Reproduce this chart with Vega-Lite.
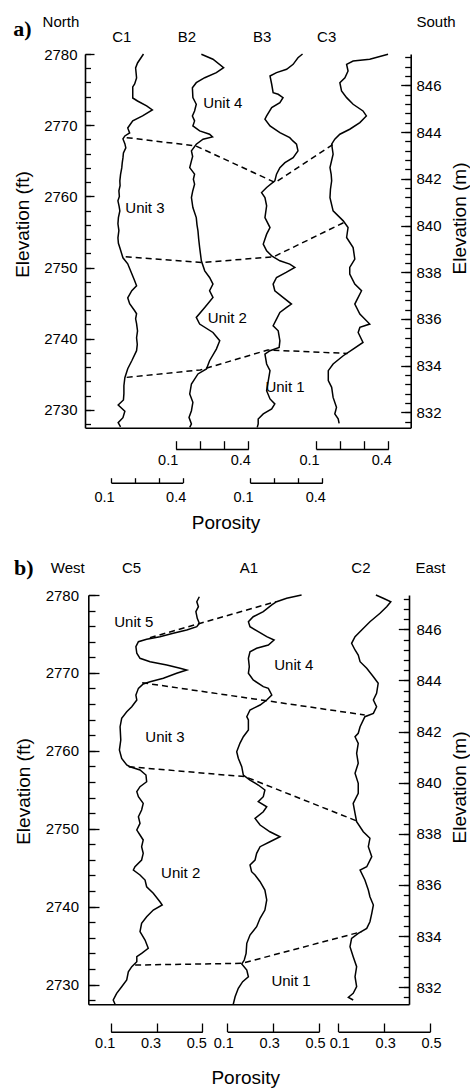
{
  "$schema": "https://vega.github.io/schema/vega-lite/v6.json",
  "width": 470,
  "height": 1089,
  "autosize": "none",
  "padding": 0,
  "background": "white",
  "config": {
    "view": {"stroke": null},
    "axis": {
      "grid": false,
      "domainColor": "black",
      "tickColor": "black",
      "labelColor": "black",
      "titleColor": "black",
      "labelFont": "Liberation Sans",
      "titleFont": "Liberation Sans",
      "labelFontSize": 15,
      "titleFontSize": 19,
      "titleFontWeight": "normal",
      "domainWidth": 1.6,
      "tickWidth": 1.3,
      "labelOverlap": false,
      "labelFlush": false
    }
  },
  "datasets": {
    "logs": [
      {"well":"C1","elev":2780.00,"porosity":0.236},{"well":"C1","elev":2778.74,"porosity":0.211},{"well":"C1","elev":2778.04,"porosity":0.203},{"well":"C1","elev":2776.63,"porosity":0.207},{"well":"C1","elev":2775.79,"porosity":0.199},{"well":"C1","elev":2775.37,"porosity":0.191},{"well":"C1","elev":2773.82,"porosity":0.191},{"well":"C1","elev":2773.40,"porosity":0.211},{"well":"C1","elev":2772.70,"porosity":0.249},{"well":"C1","elev":2772.14,"porosity":0.273},{"well":"C1","elev":2771.30,"porosity":0.232},{"well":"C1","elev":2770.60,"porosity":0.191},{"well":"C1","elev":2769.61,"porosity":0.170},{"well":"C1","elev":2768.91,"porosity":0.178},{"well":"C1","elev":2768.49,"porosity":0.158},{"well":"C1","elev":2768.07,"porosity":0.150},{"well":"C1","elev":2767.40,"porosity":0.158},{"well":"C1","elev":2766.81,"porosity":0.162},{"well":"C1","elev":2766.10,"porosity":0.152},{"well":"C1","elev":2765.40,"porosity":0.150},{"well":"C1","elev":2764.70,"porosity":0.147},{"well":"C1","elev":2764.00,"porosity":0.145},{"well":"C1","elev":2763.10,"porosity":0.140},{"well":"C1","elev":2762.18,"porosity":0.137},{"well":"C1","elev":2761.50,"porosity":0.138},{"well":"C1","elev":2760.77,"porosity":0.133},{"well":"C1","elev":2760.00,"porosity":0.135},{"well":"C1","elev":2759.37,"porosity":0.129},{"well":"C1","elev":2758.60,"porosity":0.134},{"well":"C1","elev":2757.96,"porosity":0.137},{"well":"C1","elev":2757.00,"porosity":0.131},{"well":"C1","elev":2756.14,"porosity":0.129},{"well":"C1","elev":2755.20,"porosity":0.133},{"well":"C1","elev":2754.18,"porosity":0.129},{"well":"C1","elev":2753.40,"porosity":0.131},{"well":"C1","elev":2752.77,"porosity":0.137},{"well":"C1","elev":2751.37,"porosity":0.150},{"well":"C1","elev":2750.53,"porosity":0.170},{"well":"C1","elev":2749.12,"porosity":0.187},{"well":"C1","elev":2748.14,"porosity":0.199},{"well":"C1","elev":2747.44,"porosity":0.207},{"well":"C1","elev":2746.74,"porosity":0.187},{"well":"C1","elev":2745.75,"porosity":0.170},{"well":"C1","elev":2744.91,"porosity":0.178},{"well":"C1","elev":2743.93,"porosity":0.199},{"well":"C1","elev":2743.51,"porosity":0.207},{"well":"C1","elev":2742.80,"porosity":0.203},{"well":"C1","elev":2742.11,"porosity":0.207},{"well":"C1","elev":2741.10,"porosity":0.211},{"well":"C1","elev":2740.14,"porosity":0.207},{"well":"C1","elev":2739.20,"porosity":0.210},{"well":"C1","elev":2738.32,"porosity":0.207},{"well":"C1","elev":2736.91,"porosity":0.187},{"well":"C1","elev":2735.79,"porosity":0.170},{"well":"C1","elev":2734.53,"porosity":0.158},{"well":"C1","elev":2733.40,"porosity":0.154},{"well":"C1","elev":2732.28,"porosity":0.154},{"well":"C1","elev":2731.40,"porosity":0.152},{"well":"C1","elev":2730.70,"porosity":0.130},{"well":"C1","elev":2729.80,"porosity":0.158},{"well":"C1","elev":2728.90,"porosity":0.150},{"well":"C1","elev":2728.20,"porosity":0.130},{"well":"C1","elev":2727.60,"porosity":0.140},
      {"well":"B2","elev":2779.96,"porosity":0.206},{"well":"B2","elev":2779.26,"porosity":0.254},{"well":"B2","elev":2778.08,"porosity":0.298},{"well":"B2","elev":2777.38,"porosity":0.268},{"well":"B2","elev":2776.67,"porosity":0.220},{"well":"B2","elev":2775.97,"porosity":0.185},{"well":"B2","elev":2775.27,"porosity":0.169},{"well":"B2","elev":2773.87,"porosity":0.171},{"well":"B2","elev":2772.94,"porosity":0.185},{"well":"B2","elev":2772.00,"porosity":0.178},{"well":"B2","elev":2771.30,"porosity":0.169},{"well":"B2","elev":2770.60,"porosity":0.178},{"well":"B2","elev":2769.89,"porosity":0.171},{"well":"B2","elev":2769.19,"porosity":0.199},{"well":"B2","elev":2768.73,"porosity":0.240},{"well":"B2","elev":2768.35,"porosity":0.252},{"well":"B2","elev":2768.03,"porosity":0.213},{"well":"B2","elev":2767.33,"porosity":0.185},{"well":"B2","elev":2766.39,"porosity":0.165},{"well":"B2","elev":2765.60,"porosity":0.170},{"well":"B2","elev":2764.98,"porosity":0.165},{"well":"B2","elev":2764.04,"porosity":0.158},{"well":"B2","elev":2763.12,"porosity":0.178},{"well":"B2","elev":2762.40,"porosity":0.173},{"well":"B2","elev":2761.71,"porosity":0.178},{"well":"B2","elev":2760.70,"porosity":0.170},{"well":"B2","elev":2759.83,"porosity":0.165},{"well":"B2","elev":2758.43,"porosity":0.171},{"well":"B2","elev":2757.02,"porosity":0.185},{"well":"B2","elev":2756.00,"porosity":0.188},{"well":"B2","elev":2755.16,"porosity":0.192},{"well":"B2","elev":2754.00,"porosity":0.195},{"well":"B2","elev":2752.81,"porosity":0.199},{"well":"B2","elev":2750.95,"porosity":0.206},{"well":"B2","elev":2749.54,"porosity":0.220},{"well":"B2","elev":2748.60,"porosity":0.240},{"well":"B2","elev":2747.68,"porosity":0.254},{"well":"B2","elev":2746.74,"porosity":0.240},{"well":"B2","elev":2745.80,"porosity":0.254},{"well":"B2","elev":2744.39,"porosity":0.220},{"well":"B2","elev":2742.99,"porosity":0.185},{"well":"B2","elev":2742.06,"porosity":0.199},{"well":"B2","elev":2740.88,"porosity":0.254},{"well":"B2","elev":2739.72,"porosity":0.282},{"well":"B2","elev":2738.55,"porosity":0.268},{"well":"B2","elev":2736.91,"porosity":0.240},{"well":"B2","elev":2735.75,"porosity":0.227},{"well":"B2","elev":2735.05,"porosity":0.192},{"well":"B2","elev":2733.64,"porosity":0.165},{"well":"B2","elev":2732.24,"porosity":0.158},{"well":"B2","elev":2731.06,"porosity":0.171},{"well":"B2","elev":2729.89,"porosity":0.165},{"well":"B2","elev":2728.95,"porosity":0.155},{"well":"B2","elev":2728.03,"porosity":0.165},{"well":"B2","elev":2727.55,"porosity":0.158},
      {"well":"B3","elev":2780.00,"porosity":0.318},{"well":"B3","elev":2779.48,"porosity":0.299},{"well":"B3","elev":2778.55,"porosity":0.279},{"well":"B3","elev":2777.85,"porosity":0.252},{"well":"B3","elev":2777.38,"porosity":0.210},{"well":"B3","elev":2776.91,"porosity":0.183},{"well":"B3","elev":2775.75,"porosity":0.190},{"well":"B3","elev":2774.57,"porosity":0.196},{"well":"B3","elev":2774.34,"porosity":0.217},{"well":"B3","elev":2773.87,"porosity":0.237},{"well":"B3","elev":2773.16,"porosity":0.224},{"well":"B3","elev":2772.46,"porosity":0.190},{"well":"B3","elev":2771.30,"porosity":0.169},{"well":"B3","elev":2770.84,"porosity":0.162},{"well":"B3","elev":2769.89,"porosity":0.183},{"well":"B3","elev":2768.95,"porosity":0.224},{"well":"B3","elev":2768.25,"porosity":0.265},{"well":"B3","elev":2767.79,"porosity":0.278},{"well":"B3","elev":2767.33,"porosity":0.293},{"well":"B3","elev":2766.39,"porosity":0.299},{"well":"B3","elev":2765.45,"porosity":0.279},{"well":"B3","elev":2764.74,"porosity":0.245},{"well":"B3","elev":2764.04,"porosity":0.224},{"well":"B3","elev":2763.12,"porosity":0.210},{"well":"B3","elev":2762.18,"porosity":0.203},{"well":"B3","elev":2761.24,"porosity":0.169},{"well":"B3","elev":2760.53,"porosity":0.148},{"well":"B3","elev":2759.83,"porosity":0.162},{"well":"B3","elev":2758.67,"porosity":0.169},{"well":"B3","elev":2757.02,"porosity":0.162},{"well":"B3","elev":2755.62,"porosity":0.183},{"well":"B3","elev":2754.69,"porosity":0.169},{"well":"B3","elev":2753.29,"porosity":0.155},{"well":"B3","elev":2752.35,"porosity":0.169},{"well":"B3","elev":2751.65,"porosity":0.190},{"well":"B3","elev":2750.95,"porosity":0.224},{"well":"B3","elev":2750.48,"porosity":0.265},{"well":"B3","elev":2750.01,"porosity":0.286},{"well":"B3","elev":2749.31,"porosity":0.250},{"well":"B3","elev":2748.60,"porosity":0.210},{"well":"B3","elev":2747.68,"porosity":0.196},{"well":"B3","elev":2746.74,"porosity":0.203},{"well":"B3","elev":2745.80,"porosity":0.237},{"well":"B3","elev":2744.87,"porosity":0.272},{"well":"B3","elev":2744.39,"porosity":0.252},{"well":"B3","elev":2743.69,"porosity":0.224},{"well":"B3","elev":2742.76,"porosity":0.210},{"well":"B3","elev":2741.82,"porosity":0.196},{"well":"B3","elev":2741.12,"porosity":0.217},{"well":"B3","elev":2739.72,"porosity":0.224},{"well":"B3","elev":2738.78,"porosity":0.221},{"well":"B3","elev":2738.32,"porosity":0.183},{"well":"B3","elev":2737.85,"porosity":0.162},{"well":"B3","elev":2736.45,"porosity":0.169},{"well":"B3","elev":2735.51,"porosity":0.183},{"well":"B3","elev":2734.11,"porosity":0.176},{"well":"B3","elev":2732.70,"porosity":0.169},{"well":"B3","elev":2731.54,"porosity":0.183},{"well":"B3","elev":2730.84,"porosity":0.203},{"well":"B3","elev":2730.13,"porosity":0.190},{"well":"B3","elev":2729.43,"porosity":0.155},{"well":"B3","elev":2728.73,"porosity":0.134},{"well":"B3","elev":2728.03,"porosity":0.134},{"well":"B3","elev":2727.55,"porosity":0.130},
      {"well":"C3","elev":2779.96,"porosity":0.399},{"well":"C3","elev":2779.26,"porosity":0.323},{"well":"C3","elev":2779.02,"porosity":0.254},{"well":"C3","elev":2778.55,"porosity":0.227},{"well":"C3","elev":2777.61,"porosity":0.233},{"well":"C3","elev":2776.67,"porosity":0.220},{"well":"C3","elev":2775.97,"porosity":0.199},{"well":"C3","elev":2774.81,"porosity":0.206},{"well":"C3","elev":2773.87,"porosity":0.227},{"well":"C3","elev":2772.94,"porosity":0.254},{"well":"C3","elev":2772.00,"porosity":0.295},{"well":"C3","elev":2771.30,"porosity":0.309},{"well":"C3","elev":2770.36,"porosity":0.282},{"well":"C3","elev":2769.43,"porosity":0.240},{"well":"C3","elev":2768.73,"porosity":0.199},{"well":"C3","elev":2768.03,"porosity":0.178},{"well":"C3","elev":2767.33,"porosity":0.165},{"well":"C3","elev":2765.92,"porosity":0.171},{"well":"C3","elev":2764.04,"porosity":0.158},{"well":"C3","elev":2763.10,"porosity":0.163},{"well":"C3","elev":2762.18,"porosity":0.165},{"well":"C3","elev":2761.00,"porosity":0.160},{"well":"C3","elev":2759.83,"porosity":0.158},{"well":"C3","elev":2757.96,"porosity":0.171},{"well":"C3","elev":2756.56,"porosity":0.213},{"well":"C3","elev":2755.62,"porosity":0.233},{"well":"C3","elev":2754.22,"porosity":0.227},{"well":"C3","elev":2752.81,"porosity":0.254},{"well":"C3","elev":2751.19,"porosity":0.261},{"well":"C3","elev":2750.01,"porosity":0.240},{"well":"C3","elev":2749.08,"porosity":0.240},{"well":"C3","elev":2747.68,"porosity":0.261},{"well":"C3","elev":2746.74,"porosity":0.289},{"well":"C3","elev":2745.80,"porosity":0.275},{"well":"C3","elev":2744.87,"porosity":0.261},{"well":"C3","elev":2743.47,"porosity":0.282},{"well":"C3","elev":2742.06,"porosity":0.323},{"well":"C3","elev":2741.59,"porosity":0.282},{"well":"C3","elev":2740.88,"porosity":0.275},{"well":"C3","elev":2739.48,"porosity":0.295},{"well":"C3","elev":2738.55,"porosity":0.254},{"well":"C3","elev":2737.61,"porosity":0.213},{"well":"C3","elev":2736.45,"porosity":0.171},{"well":"C3","elev":2735.51,"porosity":0.151},{"well":"C3","elev":2734.11,"porosity":0.151},{"well":"C3","elev":2733.17,"porosity":0.165},{"well":"C3","elev":2731.76,"porosity":0.171},{"well":"C3","elev":2730.36,"porosity":0.185},{"well":"C3","elev":2729.43,"porosity":0.178},{"well":"C3","elev":2728.75,"porosity":0.192},{"well":"C3","elev":2728.11,"porosity":0.196},
      {"well":"C5","elev":2779.78,"porosity":0.487},{"well":"C5","elev":2779.14,"porosity":0.476},{"well":"C5","elev":2778.50,"porosity":0.483},{"well":"C5","elev":2777.86,"porosity":0.472},{"well":"C5","elev":2777.01,"porosity":0.478},{"well":"C5","elev":2776.37,"porosity":0.487},{"well":"C5","elev":2775.93,"porosity":0.476},{"well":"C5","elev":2775.51,"porosity":0.432},{"well":"C5","elev":2775.08,"porosity":0.373},{"well":"C5","elev":2774.65,"porosity":0.315},{"well":"C5","elev":2774.31,"porosity":0.257},{"well":"C5","elev":2774.01,"porosity":0.221},{"well":"C5","elev":2773.36,"porosity":0.210},{"well":"C5","elev":2772.52,"porosity":0.214},{"well":"C5","elev":2771.87,"porosity":0.228},{"well":"C5","elev":2771.44,"porosity":0.272},{"well":"C5","elev":2771.01,"porosity":0.345},{"well":"C5","elev":2770.59,"porosity":0.403},{"well":"C5","elev":2770.37,"porosity":0.432},{"well":"C5","elev":2769.95,"porosity":0.388},{"well":"C5","elev":2769.31,"porosity":0.330},{"well":"C5","elev":2768.87,"porosity":0.272},{"well":"C5","elev":2768.58,"porosity":0.242},{"well":"C5","elev":2768.02,"porosity":0.221},{"well":"C5","elev":2767.16,"porosity":0.210},{"well":"C5","elev":2766.52,"porosity":0.214},{"well":"C5","elev":2765.66,"porosity":0.192},{"well":"C5","elev":2765.02,"porosity":0.170},{"well":"C5","elev":2764.17,"porosity":0.148},{"well":"C5","elev":2763.09,"porosity":0.141},{"well":"C5","elev":2761.39,"porosity":0.144},{"well":"C5","elev":2760.10,"porosity":0.138},{"well":"C5","elev":2759.03,"porosity":0.148},{"well":"C5","elev":2758.18,"porosity":0.170},{"well":"C5","elev":2757.96,"porosity":0.184},{"well":"C5","elev":2757.54,"porosity":0.228},{"well":"C5","elev":2756.89,"porosity":0.254},{"well":"C5","elev":2756.03,"porosity":0.257},{"well":"C5","elev":2755.39,"porosity":0.228},{"well":"C5","elev":2754.75,"porosity":0.214},{"well":"C5","elev":2754.11,"porosity":0.221},{"well":"C5","elev":2753.26,"porosity":0.242},{"well":"C5","elev":2752.40,"porosity":0.235},{"well":"C5","elev":2751.54,"porosity":0.221},{"well":"C5","elev":2750.69,"porosity":0.228},{"well":"C5","elev":2749.83,"porosity":0.214},{"well":"C5","elev":2749.19,"porosity":0.228},{"well":"C5","elev":2748.55,"porosity":0.242},{"well":"C5","elev":2747.69,"porosity":0.235},{"well":"C5","elev":2746.84,"porosity":0.242},{"well":"C5","elev":2745.98,"porosity":0.235},{"well":"C5","elev":2745.12,"porosity":0.206},{"well":"C5","elev":2744.70,"porosity":0.199},{"well":"C5","elev":2744.06,"porosity":0.228},{"well":"C5","elev":2743.41,"porosity":0.250},{"well":"C5","elev":2742.55,"porosity":0.257},{"well":"C5","elev":2741.71,"porosity":0.286},{"well":"C5","elev":2740.63,"porosity":0.315},{"well":"C5","elev":2740.21,"porosity":0.325},{"well":"C5","elev":2739.56,"porosity":0.286},{"well":"C5","elev":2738.70,"porosity":0.257},{"well":"C5","elev":2737.86,"porosity":0.235},{"well":"C5","elev":2736.78,"porosity":0.228},{"well":"C5","elev":2735.71,"porosity":0.250},{"well":"C5","elev":2734.65,"porosity":0.264},{"well":"C5","elev":2734.00,"porosity":0.235},{"well":"C5","elev":2733.57,"porosity":0.214},{"well":"C5","elev":2732.93,"porosity":0.214},{"well":"C5","elev":2732.29,"porosity":0.192},{"well":"C5","elev":2731.64,"porosity":0.177},{"well":"C5","elev":2730.58,"porosity":0.170},{"well":"C5","elev":2729.72,"porosity":0.148},{"well":"C5","elev":2728.87,"porosity":0.126},{"well":"C5","elev":2728.01,"porosity":0.111},{"well":"C5","elev":2727.46,"porosity":0.119},
      {"well":"A1","elev":2780.00,"porosity":0.424},{"well":"A1","elev":2779.58,"porosity":0.359},{"well":"A1","elev":2779.14,"porosity":0.315},{"well":"A1","elev":2778.72,"porosity":0.294},{"well":"A1","elev":2777.86,"porosity":0.257},{"well":"A1","elev":2777.21,"porosity":0.213},{"well":"A1","elev":2776.57,"porosity":0.192},{"well":"A1","elev":2775.93,"porosity":0.199},{"well":"A1","elev":2775.29,"porosity":0.235},{"well":"A1","elev":2774.65,"porosity":0.272},{"well":"A1","elev":2774.22,"porosity":0.304},{"well":"A1","elev":2773.58,"porosity":0.279},{"well":"A1","elev":2773.16,"porosity":0.228},{"well":"A1","elev":2772.72,"porosity":0.199},{"well":"A1","elev":2771.87,"porosity":0.192},{"well":"A1","elev":2770.80,"porosity":0.196},{"well":"A1","elev":2769.95,"porosity":0.192},{"well":"A1","elev":2769.09,"porosity":0.213},{"well":"A1","elev":2768.23,"porosity":0.257},{"well":"A1","elev":2768.02,"porosity":0.279},{"well":"A1","elev":2767.16,"porosity":0.294},{"well":"A1","elev":2766.52,"porosity":0.272},{"well":"A1","elev":2765.88,"porosity":0.243},{"well":"A1","elev":2765.24,"porosity":0.199},{"well":"A1","elev":2764.38,"porosity":0.185},{"well":"A1","elev":2763.95,"porosity":0.192},{"well":"A1","elev":2762.67,"porosity":0.192},{"well":"A1","elev":2761.81,"porosity":0.170},{"well":"A1","elev":2760.96,"porosity":0.155},{"well":"A1","elev":2759.88,"porosity":0.141},{"well":"A1","elev":2759.04,"porosity":0.148},{"well":"A1","elev":2757.96,"porosity":0.163},{"well":"A1","elev":2756.89,"porosity":0.170},{"well":"A1","elev":2756.25,"porosity":0.199},{"well":"A1","elev":2755.61,"porosity":0.235},{"well":"A1","elev":2754.97,"porosity":0.264},{"well":"A1","elev":2754.11,"porosity":0.257},{"well":"A1","elev":2753.47,"porosity":0.235},{"well":"A1","elev":2752.82,"porosity":0.272},{"well":"A1","elev":2752.18,"porosity":0.257},{"well":"A1","elev":2751.33,"porosity":0.221},{"well":"A1","elev":2750.47,"porosity":0.243},{"well":"A1","elev":2749.61,"porosity":0.286},{"well":"A1","elev":2748.97,"porosity":0.330},{"well":"A1","elev":2748.33,"porosity":0.286},{"well":"A1","elev":2747.69,"porosity":0.243},{"well":"A1","elev":2746.84,"porosity":0.228},{"well":"A1","elev":2745.98,"porosity":0.221},{"well":"A1","elev":2745.34,"porosity":0.199},{"well":"A1","elev":2744.48,"porosity":0.206},{"well":"A1","elev":2744.06,"porosity":0.221},{"well":"A1","elev":2743.20,"porosity":0.243},{"well":"A1","elev":2742.13,"porosity":0.264},{"well":"A1","elev":2740.85,"porosity":0.272},{"well":"A1","elev":2739.56,"porosity":0.264},{"well":"A1","elev":2738.50,"porosity":0.243},{"well":"A1","elev":2737.42,"porosity":0.228},{"well":"A1","elev":2736.35,"porosity":0.199},{"well":"A1","elev":2735.29,"porosity":0.185},{"well":"A1","elev":2734.00,"porosity":0.182},{"well":"A1","elev":2733.14,"porosity":0.174},{"well":"A1","elev":2732.63,"porosity":0.163},{"well":"A1","elev":2731.86,"porosity":0.185},{"well":"A1","elev":2731.00,"porosity":0.192},{"well":"A1","elev":2730.36,"porosity":0.167},{"well":"A1","elev":2729.51,"porosity":0.148},{"well":"A1","elev":2728.43,"porosity":0.134},{"well":"A1","elev":2727.46,"porosity":0.126},
      {"well":"C2","elev":2780.00,"porosity":0.264},{"well":"C2","elev":2779.58,"porosity":0.296},{"well":"C2","elev":2779.14,"porosity":0.329},{"well":"C2","elev":2778.50,"porosity":0.311},{"well":"C2","elev":2777.65,"porosity":0.282},{"well":"C2","elev":2776.57,"porosity":0.238},{"well":"C2","elev":2775.51,"porosity":0.202},{"well":"C2","elev":2774.65,"porosity":0.173},{"well":"C2","elev":2773.80,"porosity":0.158},{"well":"C2","elev":2772.94,"porosity":0.173},{"well":"C2","elev":2772.30,"porosity":0.187},{"well":"C2","elev":2771.44,"porosity":0.195},{"well":"C2","elev":2770.59,"porosity":0.224},{"well":"C2","elev":2769.51,"porosity":0.253},{"well":"C2","elev":2768.67,"porosity":0.274},{"well":"C2","elev":2767.38,"porosity":0.267},{"well":"C2","elev":2766.52,"porosity":0.253},{"well":"C2","elev":2765.66,"porosity":0.267},{"well":"C2","elev":2764.81,"porosity":0.253},{"well":"C2","elev":2764.38,"porosity":0.216},{"well":"C2","elev":2763.09,"porosity":0.195},{"well":"C2","elev":2762.25,"porosity":0.187},{"well":"C2","elev":2761.81,"porosity":0.173},{"well":"C2","elev":2760.96,"porosity":0.187},{"well":"C2","elev":2759.68,"porosity":0.180},{"well":"C2","elev":2758.40,"porosity":0.187},{"well":"C2","elev":2757.11,"porosity":0.173},{"well":"C2","elev":2755.83,"porosity":0.187},{"well":"C2","elev":2754.54,"porosity":0.187},{"well":"C2","elev":2753.26,"porosity":0.165},{"well":"C2","elev":2751.98,"porosity":0.173},{"well":"C2","elev":2750.90,"porosity":0.180},{"well":"C2","elev":2749.61,"porosity":0.209},{"well":"C2","elev":2748.77,"porosity":0.238},{"well":"C2","elev":2747.69,"porosity":0.231},{"well":"C2","elev":2746.41,"porosity":0.246},{"well":"C2","elev":2745.12,"porosity":0.224},{"well":"C2","elev":2744.70,"porosity":0.195},{"well":"C2","elev":2743.41,"porosity":0.216},{"well":"C2","elev":2742.13,"porosity":0.231},{"well":"C2","elev":2741.27,"porosity":0.238},{"well":"C2","elev":2740.21,"porosity":0.253},{"well":"C2","elev":2739.14,"porosity":0.246},{"well":"C2","elev":2738.06,"porosity":0.238},{"well":"C2","elev":2737.21,"porosity":0.224},{"well":"C2","elev":2736.57,"porosity":0.187},{"well":"C2","elev":2735.93,"porosity":0.158},{"well":"C2","elev":2734.85,"porosity":0.151},{"well":"C2","elev":2733.57,"porosity":0.165},{"well":"C2","elev":2732.29,"porosity":0.180},{"well":"C2","elev":2731.00,"porosity":0.173},{"well":"C2","elev":2729.72,"porosity":0.180},{"well":"C2","elev":2728.87,"porosity":0.165},{"well":"C2","elev":2728.36,"porosity":0.144},{"well":"C2","elev":2728.01,"porosity":0.165}
    ],
    "boundaries": [
      {"panel":"a","boundary":"top of Unit 3","track":0.128,"elev":2768.25},{"panel":"a","boundary":"top of Unit 3","track":0.340,"elev":2767.09},{"panel":"a","boundary":"top of Unit 3","track":0.584,"elev":2761.94},{"panel":"a","boundary":"top of Unit 3","track":0.762,"elev":2767.33},
      {"panel":"a","boundary":"top of Unit 2","track":0.125,"elev":2751.51},{"panel":"a","boundary":"top of Unit 2","track":0.362,"elev":2750.71},{"panel":"a","boundary":"top of Unit 2","track":0.579,"elev":2751.51},{"panel":"a","boundary":"top of Unit 2","track":0.795,"elev":2756.32},
      {"panel":"a","boundary":"top of Unit 1","track":0.128,"elev":2734.57},{"panel":"a","boundary":"top of Unit 1","track":0.354,"elev":2735.61},{"panel":"a","boundary":"top of Unit 1","track":0.561,"elev":2738.41},{"panel":"a","boundary":"top of Unit 1","track":0.806,"elev":2737.94},
      {"panel":"b","boundary":"top of Unit 4","track":0.192,"elev":2774.52},{"panel":"b","boundary":"top of Unit 4","track":0.585,"elev":2779.14},
      {"panel":"b","boundary":"top of Unit 3","track":0.168,"elev":2768.74},{"panel":"b","boundary":"top of Unit 3","track":0.862,"elev":2764.60},
      {"panel":"b","boundary":"top of Unit 2","track":0.126,"elev":2757.96},{"panel":"b","boundary":"top of Unit 2","track":0.489,"elev":2756.68},{"panel":"b","boundary":"top of Unit 2","track":0.835,"elev":2751.03},
      {"panel":"b","boundary":"top of Unit 1","track":0.146,"elev":2732.50},{"panel":"b","boundary":"top of Unit 1","track":0.479,"elev":2732.72},{"panel":"b","boundary":"top of Unit 1","track":0.852,"elev":2736.78}
    ],
    "labels": [
      {"panel":"a","kind":"letter","text":"a)","track":-0.192,"elev":2783.58},
      {"panel":"a","kind":"header","text":"North","track":-0.074,"elev":2784.54},
      {"panel":"a","kind":"header","text":"South","track":1.078,"elev":2784.54},
      {"panel":"a","kind":"well","text":"C1","track":0.113,"elev":2782.43},
      {"panel":"a","kind":"well","text":"B2","track":0.313,"elev":2782.43},
      {"panel":"a","kind":"well","text":"B3","track":0.544,"elev":2782.43},
      {"panel":"a","kind":"well","text":"C3","track":0.742,"elev":2782.43},
      {"panel":"a","kind":"unit","text":"Unit 4","track":0.423,"elev":2773.12},
      {"panel":"a","kind":"unit","text":"Unit 3","track":0.184,"elev":2758.33},
      {"panel":"a","kind":"unit","text":"Unit 2","track":0.437,"elev":2742.96},
      {"panel":"a","kind":"unit","text":"Unit 1","track":0.614,"elev":2733.27},
      {"panel":"a","kind":"axis","text":"Porosity","track":0.433,"elev":2714.13},
      {"panel":"b","kind":"letter","text":"b)","track":-0.201,"elev":2783.47},
      {"panel":"b","kind":"header","text":"West","track":-0.064,"elev":2783.43},
      {"panel":"b","kind":"header","text":"East","track":1.067,"elev":2783.43},
      {"panel":"b","kind":"well","text":"C5","track":0.135,"elev":2783.43},
      {"panel":"b","kind":"well","text":"A1","track":0.501,"elev":2783.43},
      {"panel":"b","kind":"well","text":"C2","track":0.850,"elev":2783.43},
      {"panel":"b","kind":"unit","text":"Unit 5","track":0.142,"elev":2776.57},
      {"panel":"b","kind":"unit","text":"Unit 4","track":0.641,"elev":2771.01},
      {"panel":"b","kind":"unit","text":"Unit 3","track":0.239,"elev":2761.81},
      {"panel":"b","kind":"unit","text":"Unit 2","track":0.288,"elev":2744.27},
      {"panel":"b","kind":"unit","text":"Unit 1","track":0.632,"elev":2730.49},
      {"panel":"b","kind":"axis","text":"Porosity","track":0.491,"elev":2718.0}
    ]
  },
  "resolve": {
    "scale": {"x": "independent", "y": "independent"},
    "axis": {"x": "independent", "y": "independent"}
  },
  "layer": [
    {
      "data": {"name": "logs"},
      "transform": [{"filter": "datum.well == 'C1'"}],
      "mark": {"type": "line", "color": "black", "strokeWidth": 1.5},
      "encoding": {
        "x": {"field": "porosity", "type": "quantitative",
          "scale": {"domain": [0.1, 0.4], "range": [111, 182.7], "zero": false, "nice": false},
          "axis": {"orient": "bottom", "offset": -606.3, "values": [0.1, 0.2, 0.3, 0.4], "format": ".1f",
            "labelExpr": "datum.value == 0.1 || datum.value == 0.4 ? datum.label : ''",
            "tickSize": -5, "labelPadding": 13, "labelAlign": "center", "labelOffset": -7, "labelFontSize": 14.5, "title": null}},
        "y": {"field": "elev", "type": "quantitative",
          "scale": {"domain": [2727.5, 2780], "range": [427.7, 54], "zero": false, "nice": false},
          "axis": {"orient": "left", "offset": -85, "values": [2730, 2740, 2750, 2760, 2770, 2780], "format": "d",
            "tickSize": -9, "labelPadding": 17, "title": "Elevation (ft)", "titlePadding": 11, "titleY": 224}},
        "order": {"field": "elev", "type": "quantitative"}
      }
    },
    {
      "data": {"name": "logs"},
      "transform": [{"filter": "datum.well == 'B2'"}],
      "mark": {"type": "line", "color": "black", "strokeWidth": 1.5},
      "encoding": {
        "x": {"field": "porosity", "type": "quantitative",
          "scale": {"domain": [0.1, 0.4], "range": [175.7, 248.3], "zero": false, "nice": false},
          "axis": {"orient": "bottom", "offset": -640, "values": [0.1, 0.2, 0.3, 0.4], "format": ".1f",
            "labelExpr": "datum.value == 0.1 || datum.value == 0.4 ? datum.label : ''",
            "tickSize": -8.3, "labelPadding": 12.8, "labelAlign": "center", "labelOffset": -8, "labelFontSize": 14.5, "title": null}},
        "y": {"field": "elev", "type": "quantitative",
          "scale": {"domain": [2727.5, 2780], "range": [427.7, 54], "zero": false, "nice": false},
          "axis": {"orient": "left", "offset": -85, "values": [2728, 2730, 2732, 2734, 2736, 2738, 2740, 2742, 2744, 2746, 2748, 2750, 2752, 2754, 2756, 2758, 2760, 2762, 2764, 2766, 2768, 2770, 2772, 2774, 2776, 2778, 2780],
            "tickSize": -5.5, "labels": false, "domain": false, "title": null}},
        "order": {"field": "elev", "type": "quantitative"}
      }
    },
    {
      "data": {"name": "logs"},
      "transform": [{"filter": "datum.well == 'B3'"}],
      "mark": {"type": "line", "color": "black", "strokeWidth": 1.5},
      "encoding": {
        "x": {"field": "porosity", "type": "quantitative",
          "scale": {"domain": [0.1, 0.4], "range": [250, 322.3], "zero": false, "nice": false},
          "axis": {"orient": "bottom", "offset": -606.3, "values": [0.1, 0.2, 0.3, 0.4], "format": ".1f",
            "labelExpr": "datum.value == 0.1 || datum.value == 0.4 ? datum.label : ''",
            "tickSize": -5, "labelPadding": 13, "labelAlign": "center", "labelOffset": -7, "labelFontSize": 14.5, "title": null}},
        "y": {"field": "elev", "type": "quantitative",
          "scale": {"domain": [2727.5, 2780], "range": [427.7, 54], "zero": false, "nice": false},
          "axis": {"orient": "right", "offset": -59.3, "values": [2729.659, 2736.220, 2742.782, 2749.344, 2755.906, 2762.467, 2769.029, 2775.591],
            "labelExpr": "format(datum.value * 0.3048, '.0f')",
            "tickSize": -10, "labelPadding": 15.3, "title": "Elevation (m)", "titlePadding": 9, "titleY": 218, "titleAngle": 270, "titleBaseline": "top"}},
        "order": {"field": "elev", "type": "quantitative"}
      }
    },
    {
      "data": {"name": "logs"},
      "transform": [{"filter": "datum.well == 'C3'"}],
      "mark": {"type": "line", "color": "black", "strokeWidth": 1.5},
      "encoding": {
        "x": {"field": "porosity", "type": "quantitative",
          "scale": {"domain": [0.1, 0.4], "range": [316, 388.3], "zero": false, "nice": false},
          "axis": {"orient": "bottom", "offset": -640, "values": [0.1, 0.2, 0.3, 0.4], "format": ".1f",
            "labelExpr": "datum.value == 0.1 || datum.value == 0.4 ? datum.label : ''",
            "tickSize": -8.3, "labelPadding": 12.8, "labelAlign": "center", "labelOffset": -7, "labelFontSize": 14.5, "title": null}},
        "y": {"field": "elev", "type": "quantitative",
          "scale": {"domain": [2727.5, 2780], "range": [427.7, 54], "zero": false, "nice": false},
          "axis": {"orient": "right", "offset": -59.3, "values": [2728.346, 2729.659, 2730.971, 2732.283, 2733.596, 2734.908, 2736.220, 2737.533, 2738.845, 2740.157, 2741.470, 2742.782, 2744.094, 2745.407, 2746.719, 2748.031, 2749.344, 2750.656, 2751.969, 2753.281, 2754.593, 2755.906, 2757.218, 2758.530, 2759.843, 2761.155, 2762.467, 2763.780, 2765.092, 2766.404, 2767.717, 2769.029, 2770.341, 2771.654, 2772.966, 2774.278, 2775.591, 2776.903, 2778.215, 2779.528],
            "tickSize": -6, "labels": false, "domain": false, "title": null}},
        "order": {"field": "elev", "type": "quantitative"}
      }
    },
    {
      "data": {"name": "boundaries"},
      "transform": [{"filter": "datum.panel == 'a'"}],
      "mark": {"type": "line", "color": "black", "strokeWidth": 1.5, "strokeDash": [6, 4]},
      "encoding": {
        "x": {"field": "track", "type": "quantitative",
          "scale": {"domain": [0, 1], "range": [85, 410.7], "zero": false, "nice": false},
          "axis": {"orient": "bottom", "offset": -661.3, "ticks": false, "labels": false, "domain": true, "title": null}},
        "y": {"field": "elev", "type": "quantitative",
          "scale": {"domain": [2727.5, 2780], "range": [427.7, 54], "zero": false, "nice": false}, "axis": null},
        "detail": {"field": "boundary"},
        "order": {"field": "track", "type": "quantitative"}
      }
    },
    {
      "data": {"name": "labels"},
      "transform": [{"filter": "datum.panel == 'a' && (datum.kind == 'header' || datum.kind == 'well' || datum.kind == 'unit')"}],
      "mark": {"type": "text", "font": "Liberation Sans", "fontSize": 15, "color": "black", "align": "center", "baseline": "middle"},
      "encoding": {
        "x": {"field": "track", "type": "quantitative", "scale": {"domain": [0, 1], "range": [85, 410.7], "zero": false, "nice": false}, "axis": null},
        "y": {"field": "elev", "type": "quantitative", "scale": {"domain": [2727.5, 2780], "range": [427.7, 54], "zero": false, "nice": false}, "axis": null},
        "text": {"field": "text"}
      }
    },
    {
      "data": {"name": "labels"},
      "transform": [{"filter": "datum.panel == 'a' && datum.kind == 'letter'"}],
      "mark": {"type": "text", "font": "Liberation Serif", "fontWeight": "bold", "fontSize": 22, "color": "black", "align": "center", "baseline": "middle"},
      "encoding": {
        "x": {"field": "track", "type": "quantitative", "scale": {"domain": [0, 1], "range": [85, 410.7], "zero": false, "nice": false}, "axis": null},
        "y": {"field": "elev", "type": "quantitative", "scale": {"domain": [2727.5, 2780], "range": [427.7, 54], "zero": false, "nice": false}, "axis": null},
        "text": {"field": "text"}
      }
    },
    {
      "data": {"name": "labels"},
      "transform": [{"filter": "datum.panel == 'a' && datum.kind == 'axis'"}],
      "mark": {"type": "text", "font": "Liberation Sans", "fontSize": 19, "color": "black", "align": "center", "baseline": "middle"},
      "encoding": {
        "x": {"field": "track", "type": "quantitative", "scale": {"domain": [0, 1], "range": [85, 410.7], "zero": false, "nice": false}, "axis": null},
        "y": {"field": "elev", "type": "quantitative", "scale": {"domain": [2727.5, 2780], "range": [427.7, 54], "zero": false, "nice": false}, "axis": null},
        "text": {"field": "text"}
      }
    },
    {
      "data": {"name": "logs"},
      "transform": [{"filter": "datum.well == 'C5'"}],
      "mark": {"type": "line", "color": "black", "strokeWidth": 1.5},
      "encoding": {
        "x": {"field": "porosity", "type": "quantitative",
          "scale": {"domain": [0.1, 0.5], "range": [110.7, 202.3], "zero": false, "nice": false},
          "axis": {"orient": "bottom", "offset": -57.3, "values": [0.1, 0.3, 0.5], "format": ".1f",
            "tickSize": -8.7, "labelPadding": 13.2, "labelAlign": "center", "labelOffset": -6, "labelFontSize": 14.5, "title": null}},
        "y": {"field": "elev", "type": "quantitative",
          "scale": {"domain": [2727.46, 2780], "range": [1004.3, 595], "zero": false, "nice": false},
          "axis": {"orient": "left", "offset": -88.3, "values": [2730, 2740, 2750, 2760, 2770, 2780], "format": "d",
            "tickSize": -10.7, "labelPadding": 20.5, "title": "Elevation (ft)", "titlePadding": 12, "titleY": 791}},
        "order": {"field": "elev", "type": "quantitative"}
      }
    },
    {
      "data": {"name": "logs"},
      "transform": [{"filter": "datum.well == 'A1'"}],
      "mark": {"type": "line", "color": "black", "strokeWidth": 1.5},
      "encoding": {
        "x": {"field": "porosity", "type": "quantitative",
          "scale": {"domain": [0.1, 0.5], "range": [227.3, 319], "zero": false, "nice": false},
          "axis": {"orient": "bottom", "offset": -57.3, "values": [0.1, 0.3, 0.5], "format": ".1f",
            "tickSize": -8.7, "labelPadding": 13.2, "labelAlign": "center", "labelOffset": -4, "labelFontSize": 14.5, "title": null}},
        "y": {"field": "elev", "type": "quantitative",
          "scale": {"domain": [2727.46, 2780], "range": [1004.3, 595], "zero": false, "nice": false},
          "axis": {"orient": "left", "offset": -88.3, "values": [2728, 2730, 2732, 2734, 2736, 2738, 2740, 2742, 2744, 2746, 2748, 2750, 2752, 2754, 2756, 2758, 2760, 2762, 2764, 2766, 2768, 2770, 2772, 2774, 2776, 2778, 2780],
            "tickSize": -6.7, "labels": false, "domain": false, "title": null}},
        "order": {"field": "elev", "type": "quantitative"}
      }
    },
    {
      "data": {"name": "logs"},
      "transform": [{"filter": "datum.well == 'C2'"}],
      "mark": {"type": "line", "color": "black", "strokeWidth": 1.5},
      "encoding": {
        "x": {"field": "porosity", "type": "quantitative",
          "scale": {"domain": [0.1, 0.5], "range": [338.3, 430], "zero": false, "nice": false},
          "axis": {"orient": "bottom", "offset": -57.3, "values": [0.1, 0.3, 0.5], "format": ".1f",
            "tickSize": -8.7, "labelPadding": 13.2, "labelAlign": "center", "labelOffset": 1, "labelFontSize": 14.5, "title": null}},
        "y": {"field": "elev", "type": "quantitative",
          "scale": {"domain": [2727.46, 2780], "range": [1004.3, 595], "zero": false, "nice": false},
          "axis": {"orient": "right", "offset": -61, "values": [2729.659, 2736.220, 2742.782, 2749.344, 2755.906, 2762.467, 2769.029, 2775.591],
            "labelExpr": "format(datum.value * 0.3048, '.0f')",
            "tickSize": -10.7, "labelPadding": 17.7, "title": "Elevation (m)", "titlePadding": 9, "titleY": 787, "titleAngle": 270, "titleBaseline": "top"}},
        "order": {"field": "elev", "type": "quantitative"}
      }
    },
    {
      "data": {"name": "boundaries"},
      "transform": [{"filter": "datum.panel == 'b'"}],
      "mark": {"type": "line", "color": "black", "strokeWidth": 1.5, "strokeDash": [6, 4]},
      "encoding": {
        "x": {"field": "track", "type": "quantitative",
          "scale": {"domain": [0, 1], "range": [88.3, 409], "zero": false, "nice": false},
          "axis": {"orient": "bottom", "offset": -84.7, "ticks": false, "labels": false, "domain": true, "title": null}},
        "y": {"field": "elev", "type": "quantitative",
          "scale": {"domain": [2727.46, 2780], "range": [1004.3, 595], "zero": false, "nice": false},
          "axis": {"orient": "right", "offset": -61, "values": [2728.346, 2729.659, 2730.971, 2732.283, 2733.596, 2734.908, 2736.220, 2737.533, 2738.845, 2740.157, 2741.470, 2742.782, 2744.094, 2745.407, 2746.719, 2748.031, 2749.344, 2750.656, 2751.969, 2753.281, 2754.593, 2755.906, 2757.218, 2758.530, 2759.843, 2761.155, 2762.467, 2763.780, 2765.092, 2766.404, 2767.717, 2769.029, 2770.341, 2771.654, 2772.966, 2774.278, 2775.591, 2776.903, 2778.215, 2779.528],
            "tickSize": -5.7, "labels": false, "domain": false, "title": null}},
        "detail": {"field": "boundary"},
        "order": {"field": "track", "type": "quantitative"}
      }
    },
    {
      "data": {"name": "labels"},
      "transform": [{"filter": "datum.panel == 'b' && (datum.kind == 'header' || datum.kind == 'well' || datum.kind == 'unit')"}],
      "mark": {"type": "text", "font": "Liberation Sans", "fontSize": 15, "color": "black", "align": "center", "baseline": "middle"},
      "encoding": {
        "x": {"field": "track", "type": "quantitative", "scale": {"domain": [0, 1], "range": [88.3, 409], "zero": false, "nice": false}, "axis": null},
        "y": {"field": "elev", "type": "quantitative", "scale": {"domain": [2727.46, 2780], "range": [1004.3, 595], "zero": false, "nice": false}, "axis": null},
        "text": {"field": "text"}
      }
    },
    {
      "data": {"name": "labels"},
      "transform": [{"filter": "datum.panel == 'b' && datum.kind == 'letter'"}],
      "mark": {"type": "text", "font": "Liberation Serif", "fontWeight": "bold", "fontSize": 22, "color": "black", "align": "center", "baseline": "middle"},
      "encoding": {
        "x": {"field": "track", "type": "quantitative", "scale": {"domain": [0, 1], "range": [88.3, 409], "zero": false, "nice": false}, "axis": null},
        "y": {"field": "elev", "type": "quantitative", "scale": {"domain": [2727.46, 2780], "range": [1004.3, 595], "zero": false, "nice": false}, "axis": null},
        "text": {"field": "text"}
      }
    },
    {
      "data": {"name": "labels"},
      "transform": [{"filter": "datum.panel == 'b' && datum.kind == 'axis'"}],
      "mark": {"type": "text", "font": "Liberation Sans", "fontSize": 19, "color": "black", "align": "center", "baseline": "middle"},
      "encoding": {
        "x": {"field": "track", "type": "quantitative", "scale": {"domain": [0, 1], "range": [88.3, 409], "zero": false, "nice": false}, "axis": null},
        "y": {"field": "elev", "type": "quantitative", "scale": {"domain": [2727.46, 2780], "range": [1004.3, 595], "zero": false, "nice": false}, "axis": null},
        "text": {"field": "text"}
      }
    }
  ]
}
